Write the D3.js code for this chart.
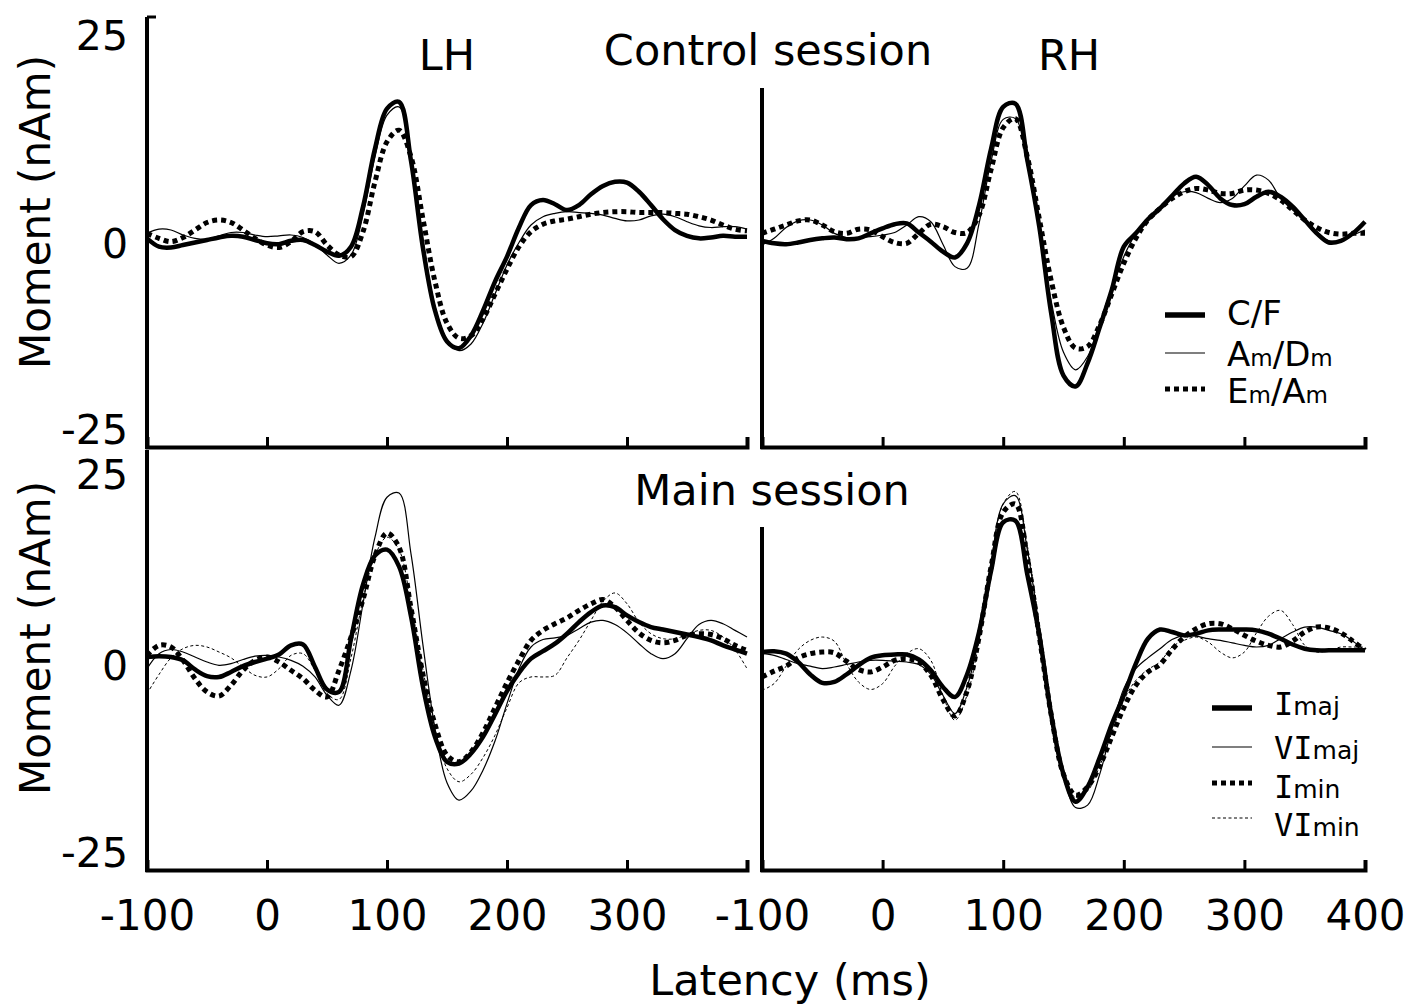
<!DOCTYPE html>
<html>
<head>
    <script src="https://cdn.jsdelivr.net/npm/d3@7"></script>
</head>

<style>
    body { margin: 0; background: #fff; }
    text { font-family: "DejaVu Sans", Verdana, sans-serif; fill: #000; }
    .curve { fill: none; stroke: #000; }
</style>

<body>
<div id="chart"></div>

<script>

    // sampling grid, ms
    var latency = [-100, -90, -80, -70, -60, -50, -40, -30, -20, -10,
        0, 10, 20, 30, 40, 50, 60, 70, 80, 90,
        100, 110, 120, 130, 140, 150, 160, 170, 180, 190,
        200, 210, 220, 230, 240, 250, 260, 270, 280, 290,
        300, 310, 320, 330, 340, 350, 360, 370, 380, 390, 400];

    // Control session, LH (nAm)
    var lhControlCF = [0.2, -0.8, -0.9, -0.6, -0.3, 0, 0.3, 0.5, 0.4, 0,
        -0.4, -0.5, -0.1, 0, -0.6, -1.4, -1.9, -0.8, 4, 11,
        15.8, 16.6, 9.5, -1, -8.5, -12.2, -13, -11.5, -8.5, -5,
        -2, 1.5, 4.2, 4.8, 4.3, 3.6, 4.2, 5.5, 6.5, 7,
        6.9, 5.8, 4.2, 2.5, 1.2, 0.5, 0.2, 0.3, 0.5, 0.4, 0.4];
    var lhControlAmDm = [0.8, 1.3, 1.2, 0.6, 0.2, 0.1, 0.5, 0.9, 0.9, 0.6,
        0.4, 0.5, 0.6, 0.3, -0.5, -1.8, -2.8, -1.8, 3, 10,
        15, 16, 10, 0, -8, -12, -13.3, -12.5, -10, -6.5,
        -3, -0.3, 1.8, 2.8, 3.2, 3.4, 3.3, 3.2, 3, 2.6,
        2.3, 2.4, 2.9, 3.1, 2.8, 2.2, 1.7, 1.5, 1.6, 1.6, 1.3];
    var lhControlEmAm = [0.8, 0.2, -0.2, 0.3, 1.2, 2.1, 2.4, 2.1, 1.2, 0.2,
        -0.6, -0.9, -0.2, 1, 1, -0.6, -1.8, -2, 1, 7,
        11.8, 13.2, 10, 2.5, -5, -10, -11.8, -11.5, -9.5, -6.5,
        -3.5, -0.8, 1, 1.9, 2.3, 2.5, 2.8, 3.1, 3.3, 3.4,
        3.4, 3.3, 3.3, 3.3, 3.2, 3.1, 2.8, 2.4, 1.8, 1.3, 1.1];

    // Control session, RH
    var rhControlCF = [-0.1, -0.4, -0.5, -0.3, 0, 0.2, 0.3, 0.1, 0.2, 0.8,
        1.4, 1.9, 2, 0.9, -0.2, -1.4, -2.1, -0.4, 4.2, 11,
        16, 16.4, 9.6, 1.5, -9, -16.3, -17.6, -14.8, -10.5, -6,
        -0.8, 0.8, 2.5, 3.8, 5.3, 6.8, 7.6, 6.6, 5, 4.2,
        4.3, 5.2, 5.8, 5.2, 4, 2.4, 0.8, -0.3, -0.1, 0.8, 2.2];
    var rhControlAmDm = [-0.6, 0.2, 1.5, 2.3, 2.4, 1.8, 0.8, 0.3, 0.3, 0.4,
        0.6, 0.9, 1.8, 2.8, 2.2, -0.5, -3.2, -3.4, 2, 9.5,
        14.5, 14.6, 9, 1, -7.5, -13.5, -15.6, -14, -10, -5.8,
        -2, 0.8, 2.5, 4, 5.2, 5.8, 5.7, 5, 4.5, 5,
        6.5, 7.8, 7.2, 5, 3.6, 2.4, 1, -0.1, 0, 0.6, 1.2];
    var rhControlEmAm = [0.8, 1.3, 1.8, 2.3, 2.4, 1.8, 1, 0.8, 1.3, 1.2,
        0.4, -0.3, -0.4, 0.8, 1.9, 1.6, 0.9, 0.9, 3, 8.5,
        13.5, 14.6, 10, 2.5, -5, -10.5, -13, -12.8, -10.2, -6.5,
        -2.8, 0.2, 2.4, 3.8, 5, 5.8, 6.2, 6, 5.6, 5.6,
        6, 6, 5.6, 4.8, 3.6, 2.4, 1.5, 0.9, 0.7, 0.8, 0.8];

    // Main session, LH
    var lhMainImaj = [0.6, 0.7, 0.6, 0.2, -0.9, -1.7, -1.8, -1.2, -0.5, 0,
        0.4, 0.9, 2, 2.1, -0.6, -3.3, -3.6, 2.8, 9.3, 12.8,
        13.5, 11.5, 5.5, -3, -9, -12, -12.2, -11, -9, -6.3,
        -3.5, -1.3, 0.4, 1.3, 2.2, 3.4, 4.8, 6, 6.8, 6.6,
        5.6, 4.8, 4.2, 3.9, 3.6, 3.3, 3, 2.6, 2, 1.5, 1];
    var lhMainVImaj = [-0.8, 1, 1.5, 1.2, 0.6, 0, -0.4, -0.2, 0.3, 0.7,
        0.8, 0.6, 0.2, -0.5, -1.8, -4, -5.2, -1, 7, 15,
        19.8, 20.3, 13, 2, -8, -14.5, -16.6, -15.5, -13, -9.5,
        -5, -0.8, 1.8, 2.7, 2.9, 3.2, 4, 4.8, 5, 4.5,
        3.5, 2.2, 1, 0.4, 1, 2.8, 4.5, 5, 4.6, 3.8, 3];
    var lhMainImin = [0.8, 2, 1.8, 0.2, -2, -3.6, -4.1, -2.8, -1, 0.2,
        0.6, 0, -1, -2, -3.4, -4.2, -1, 3, 7.5, 12.8,
        15.5, 13.8, 6.5, -1.5, -7.5, -11.2, -12, -10.8, -8.5, -5.5,
        -2.5, 0.2, 2.6, 3.8, 4.6, 5.3, 6.2, 7, 7.5, 6.6,
        5, 3.5, 2.6, 2.3, 2.6, 3.2, 3.4, 3.3, 2.8, 2, 1.4];
    var lhMainVImin = [-3.8, -1.5, 0.5, 1.6, 2, 1.8, 1.2, 0.5, -0.6, -1.6,
        -1.8, -0.8, 0.8, 1, -1, -3.8, -4.5, 0.5, 7.5, 12.8,
        15, 13.5, 7, -1, -8, -12.8, -14.4, -13.5, -11.5, -8.8,
        -5.5, -2.5, -1.8, -1.8, -1.6, 0.5, 2.6, 5, 7.3, 8.3,
        7, 4.8, 3.4, 2.8, 2.8, 3.3, 3.8, 3.8, 3, 1.5, -0.8];

    // Main session, RH
    var rhMainImaj = [1.2, 1.3, 1, 0, -1.5, -2.5, -2.4, -1.5, -0.4, 0.5,
        0.8, 0.9, 0.9, 0.3, -1, -3, -4.2, -1.5, 3.6, 11,
        16.8, 17, 10.5, 3.2, -6.5, -13.5, -16.8, -15, -11.5, -7.5,
        -4, -0.2, 2.8, 3.9, 3.6, 3.2, 3.4, 3.8, 3.9, 3.9,
        3.9, 3.8, 3.4, 2.8, 2.1, 1.6, 1.4, 1.4, 1.4, 1.4, 1.4];
    var rhMainVImaj = [1, 0.8, 0.3, -0.2, -0.5, -0.8, -0.6, -0.3, 0, 0.2,
        0.2, 0.1, 0, -0.3, -1.5, -4, -6.2, -3, 3, 12,
        19, 20, 13.5, 4, -6, -13.5, -17.5, -17.2, -13.5, -8,
        -3.2, -0.8, 0.5, 1.6, 2.7, 3.2, 3.1, 2.8, 2.6, 2.3,
        2, 1.8, 2, 2.8, 3.6, 4.2, 4.2, 3.8, 3.4, 2.5, 1.4];
    var rhMainImin = [-1.8, -1.1, -0.5, 0.5, 1, 1.2, 1.1, 0.1, -0.9, -1.2,
        -0.6, 0.2, 0.4, 0, -1.6, -4.5, -6.5, -3.5, 3, 11.5,
        18, 19, 12.5, 3, -6.5, -13.5, -16, -15, -12.5, -9,
        -5.5, -2.8, -1.2, -0.3, 1.5, 3, 4, 4.6, 4.6, 4,
        3.2, 2.5, 2, 1.8, 2.5, 3.6, 4.2, 4.1, 3.5, 2.5, 1.4];
    var rhMainVImin = [-3.4, -2.6, -0.5, 1.5, 2.6, 3, 2.5, -0.2, -2.4, -3.3,
        -2.6, -0.5, 1, 1.6, 0.2, -4, -7, -4, 2.5, 12,
        19, 20.5, 14, 4.5, -5.5, -13, -16.3, -15.5, -12.5, -8.5,
        -4.6, -2.2, -0.9, 0, 1.8, 2.6, 3, 2.4, 1.2, 0.5,
        1.2, 3.5, 5.5, 6.2, 4.5, 2, 1.2, 1.4, 1.8, 1.8, 1.8];

    var leftTicks = [-100, 0, 100, 200, 300];
    var rightTicks = [-100, 0, 100, 200, 300, 400];
    var momentTicks = [-25, 0, 25];

    // legend labels: even parts full size, odd parts small
    var controlLegend = [['C/F'], ['A', 'm', '/D', 'm'], ['E', 'm', '/A', 'm']];
    var mainLegend = [['I', 'maj'], ['VI', 'maj'], ['I', 'min'], ['VI', 'min']];

    var width = 1420;
    var height = 1008;

    var styles = {
        thick:  { w: 4.5, dash: null },
        thin:   { w: 1.2, dash: null },
        dotted: { w: 5, dash: '5 4' },
        dashed: { w: 1, dash: '3 2.5' }
    };

    var xLeft = d3.scaleLinear().domain([-100, 400]).range([147, 747]);
    var xRight = d3.scaleLinear().domain([-100, 400]).range([762, 1365]);
    var yTop = d3.scaleLinear().domain([-25, 25]).range([448, 32]);
    var yBottom = d3.scaleLinear().domain([-25, 25]).range([870, 454]);

    var panels = [
        { x: xLeft, y: yTop, axisTop: 17, axisBottom: 447, ticks: leftTicks, labels: false,
          series: [[lhControlAmDm, 'thin'], [lhControlEmAm, 'dotted'], [lhControlCF, 'thick']] },
        { x: xRight, y: yTop, axisTop: 88, axisBottom: 447, ticks: rightTicks, labels: false,
          series: [[rhControlAmDm, 'thin'], [rhControlEmAm, 'dotted'], [rhControlCF, 'thick']] },
        { x: xLeft, y: yBottom, axisTop: 450, axisBottom: 870, ticks: leftTicks, labels: true,
          series: [[lhMainVImin, 'dashed'], [lhMainVImaj, 'thin'], [lhMainImin, 'dotted'], [lhMainImaj, 'thick']] },
        { x: xRight, y: yBottom, axisTop: 527, axisBottom: 870, ticks: rightTicks, labels: true,
          series: [[rhMainVImin, 'dashed'], [rhMainVImaj, 'thin'], [rhMainImin, 'dotted'], [rhMainImaj, 'thick']] }
    ];

    var svg = d3.select('#chart').append('svg')
        .attr('width', width)
        .attr('height', height);

    svg.append('rect')
        .attr('width', width)
        .attr('height', height)
        .attr('fill', '#fff');

    panels.forEach(function(p, pi) {
        var g = svg.append('g');

        // curves
        p.series.forEach(function(s) {
            var st = styles[s[1]];
            var pen = d3.line()
                .curve(d3.curveCatmullRom)
                .x(function(d, i) { return p.x(latency[i]); })
                .y(function(d) { return p.y(d); });

            g.append('path')
                .datum(s[0])
                .attr('class', 'curve')
                .attr('stroke-width', st.w)
                .attr('stroke-dasharray', st.dash)
                .attr('d', pen);
        });

        // x axis, ticks point up into the panel
        var xAxis = d3.axisBottom(p.x)
            .tickValues(p.ticks)
            .tickSizeInner(-10)
            .tickSizeOuter(-10)
            .tickPadding(30)
            .tickFormat(function(d) { return p.labels ? String(d) : ''; });

        var ax = g.append('g')
            .attr('transform', 'translate(0,' + p.axisBottom + ')')
            .call(xAxis);
        ax.attr('font-size', 42).attr('font-family', null);
        ax.select('.domain').attr('stroke-width', 4).attr('stroke', '#000');
        ax.selectAll('.tick line').attr('stroke-width', 3).attr('stroke', '#000');
        ax.selectAll('.tick text').attr('fill', '#000');

        // y axis line
        var x0 = p.x.range()[0];
        g.append('line')
            .attr('x1', x0).attr('x2', x0)
            .attr('y1', p.axisTop).attr('y2', p.axisBottom + 2)
            .attr('stroke', '#000')
            .attr('stroke-width', 4);

        // y labels only on the left column
        if (p.x === xLeft) {
            g.selectAll('text.ylab')
                .data(momentTicks)
                .enter()
                .append('text')
                .attr('class', 'ylab')
                .attr('x', 128)
                .attr('y', function(d) {
                    var yy = Math.max(p.axisTop + 21, Math.min(p.axisBottom - 21, p.y(d)));
                    if (d === 25 && pi === 0) yy = p.y(d);
                    return yy + 4;
                })
                .attr('dy', '0.35em')
                .attr('text-anchor', 'end')
                .attr('font-size', 41)
                .text(function(d) { return String(d); });

            svg.append('text')
                .attr('transform', 'translate(50,' + (pi === 0 ? 212 : 638) + ') rotate(-90)')
                .attr('text-anchor', 'middle')
                .attr('font-size', 42)
                .text('Moment (nAm)');
        }
    });

    // small cap tick at the top of the first y axis
    svg.append('line')
        .attr('x1', 147).attr('x2', 156)
        .attr('y1', 17).attr('y2', 17)
        .attr('stroke', '#000')
        .attr('stroke-width', 3);

    // titles
    var titles = [['LH', 447, 70], ['Control session', 768, 65], ['RH', 1069, 70], ['Main session', 772, 505]];
    titles.forEach(function(t) {
        svg.append('text')
            .attr('x', t[1]).attr('y', t[2])
            .attr('text-anchor', 'middle')
            .attr('font-size', 43)
            .text(t[0]);
    });

    svg.append('text')
        .attr('x', 790).attr('y', 995)
        .attr('text-anchor', 'middle')
        .attr('font-size', 43)
        .text('Latency (ms)');

    // legends
    function legend(items, kinds, x, lineYs, textYs, bigSize, smallSize, serifI) {
        items.forEach(function(parts, i) {
            var st = styles[kinds[i]];
            svg.append('line')
                .attr('x1', x).attr('x2', x + 40)
                .attr('y1', lineYs[i]).attr('y2', lineYs[i])
                .attr('stroke', '#000')
                .attr('stroke-width', st.w === 4.5 ? 5.5 : st.w)
                .attr('stroke-dasharray', st.dash);

            var t = svg.append('text')
                .attr('x', x + 62)
                .attr('y', textYs[i]);
            parts.forEach(function(s, k) {
                var big = k % 2 === 0;
                var ts = t.append('tspan')
                    .attr('font-size', big ? bigSize : smallSize)
                    .text(s);
                if (big && serifI) ts.attr('font-family', '"DejaVu Sans Mono", monospace');
            });
        });
    }

    legend(controlLegend, ['thick', 'thin', 'dotted'], 1165, [315, 353, 389], [325, 366, 403], 34, 23, false);
    legend(mainLegend, ['thick', 'thin', 'dotted', 'dashed'], 1212, [708, 747, 783, 818], [715, 759, 798, 836], 32, 25, true);

</script>
</body>
</html>
